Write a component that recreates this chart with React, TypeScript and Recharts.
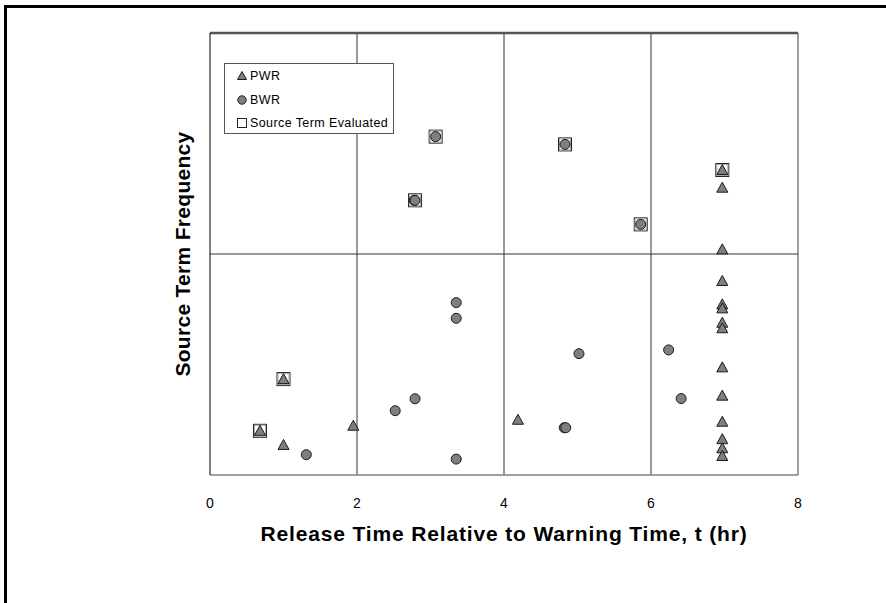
import React from "react";
import {
  ScatterChart,
  Scatter,
  XAxis,
  YAxis,
  CartesianGrid,
  ReferenceLine,
  Legend,
  Label,
} from "recharts";

const xTicks = [0, 2, 4, 6, 8];
const yTicks = [0, 1, 2];

const pwrX = [0.68, 1.0, 1.0, 1.95, 4.19, 6.97, 6.97, 6.97, 6.97, 6.97, 6.97, 6.97, 6.97, 6.97, 6.97, 6.97, 6.97, 6.97, 6.97];
const pwrY = [0.2, 0.434, 0.136, 0.223, 0.25, 1.38, 1.3, 1.021, 0.878, 0.772, 0.754, 0.689, 0.664, 0.487, 0.359, 0.241, 0.162, 0.121, 0.086];

const bwrX = [1.31, 2.52, 2.79, 2.78, 2.79, 3.07, 3.35, 3.35, 3.35, 4.82, 4.84, 5.02, 4.83, 5.86, 6.24, 6.41];
const bwrY = [0.092, 0.291, 0.345, 1.243, 1.243, 1.531, 0.78, 0.709, 0.072, 0.214, 0.214, 0.549, 1.496, 1.134, 0.566, 0.346];

const evalX = [0.68, 1.0, 6.97, 2.79, 3.07, 4.83, 5.86];
const evalY = [0.2, 0.434, 1.38, 1.243, 1.531, 1.496, 1.134];

const pwrData = pwrX.map((x, i) => ({ x, y: pwrY[i] }));
const bwrData = bwrX.map((x, i) => ({ x, y: bwrY[i] }));
const evalData = evalX.map((x, i) => ({ x, y: evalY[i] }));

const FONT = "'Liberation Sans', Arial, Helvetica, sans-serif";
const MARK_FILL = "#7f7f7f";
const MARK_STROKE = "#1a1a1a";

const Triangle = (p: any) => {
  const { cx, cy } = p;
  if (cx == null || cy == null) return null;
  const pts = `${cx},${cy - 5.5} ${cx - 5.5},${cy + 4.5} ${cx + 5.5},${cy + 4.5}`;
  return <polygon points={pts} fill={MARK_FILL} stroke={MARK_STROKE} strokeWidth={1} />;
};

const Dot = (p: any) => {
  const { cx, cy } = p;
  if (cx == null || cy == null) return null;
  return <circle cx={cx} cy={cy} r={5} fill={MARK_FILL} stroke={MARK_STROKE} strokeWidth={1} />;
};

const Square = (p: any) => {
  const { cx, cy } = p;
  if (cx == null || cy == null) return null;
  return (
    <g>
      <rect x={cx - 6.5} y={cy - 6.5} width={13} height={13} fill="#fff" stroke="#222" strokeWidth={1} />
      <rect x={cx - 5.5} y={cy - 5.5} width={11} height={11} fill="none" stroke="#aaa" strokeWidth={1} />
    </g>
  );
};

const LegendBox = () => {
  const rows = [
    { label: "PWR", top: 12, icon: <polygon points="5,0.5 0.5,8.5 9.5,8.5" fill={MARK_FILL} stroke={MARK_STROKE} strokeWidth={1} /> },
    { label: "BWR", top: 36, icon: <circle cx={5} cy={5} r={4.2} fill={MARK_FILL} stroke={MARK_STROKE} strokeWidth={1} /> },
    { label: "Source Term Evaluated", top: 59, icon: <rect x={0.5} y={0.5} width={9} height={9} fill="#fff" stroke="#222" strokeWidth={1} /> },
  ];
  return (
    <div
      style={{
        position: "relative",
        width: 170,
        height: 71,
        boxSizing: "border-box",
        border: "1px solid #555",
        background: "#fff",
        fontFamily: FONT,
        fontSize: 12.5,
        letterSpacing: 0.4,
        color: "#000",
      }}
    >
      {rows.map((r) => (
        <div key={r.label} style={{ position: "absolute", left: 12, top: r.top - 7, height: 14, display: "flex", alignItems: "center", whiteSpace: "nowrap" }}>
          <svg width={10} height={10} style={{ marginRight: 3 }}>{r.icon}</svg>
          <span>{r.label}</span>
        </div>
      ))}
    </div>
  );
};

export default function App() {
  return (
    <div style={{ position: "absolute", left: 0, top: 0, width: 886, height: 603, background: "#fff", overflow: "hidden" }}>
      <div style={{ position: "absolute", left: 4, top: 5, width: 1000, height: 1000, borderLeft: "3px solid #000", borderTop: "3px solid #000" }} />
      <div style={{ position: "absolute", left: 0, top: 0 }}>
        <ScatterChart width={886} height={603} margin={{ top: 33, right: 88, bottom: 68, left: 150 }}>
          <CartesianGrid stroke="#333" strokeWidth={1} horizontalValues={[1]} verticalValues={[2, 4, 6]} />
          <XAxis
            type="number"
            dataKey="x"
            domain={[0, 8]}
            ticks={xTicks}
            height={60}
            tickLine={false}
            tickSize={6}
            tickMargin={17}
            axisLine={{ stroke: "#808080", strokeWidth: 1.5 }}
            tick={{ fontSize: 14, fill: "#000", fontFamily: FONT }}
            interval={0}
          >
            <Label
              content={(props: any) => {
                const vb = props.viewBox || {};
                return (
                  <text x={(vb.x || 0) + (vb.width || 0) / 2} y={541} textAnchor="middle" fontFamily={FONT} fontWeight="bold" fontSize={21} letterSpacing={0.85} fill="#000">
                    Release Time Relative to Warning Time, t (hr)
                  </text>
                );
              }}
            />
          </XAxis>
          <YAxis
            type="number"
            dataKey="y"
            domain={[0, 2]}
            ticks={yTicks}
            width={60}
            tick={false}
            tickSize={3}
            tickLine={{ stroke: "#000" }}
            axisLine={{ stroke: "#000", strokeWidth: 1 }}
          >
            <Label
              content={(props: any) => {
                const vb = props.viewBox || {};
                const cy = (vb.y || 0) + (vb.height || 0) / 2;
                return (
                  <text x={0} y={0} transform={`translate(190,${cy}) rotate(-90)`} textAnchor="middle" fontFamily={FONT} fontWeight="bold" fontSize={21} letterSpacing={0.3} fill="#000">
                    Source Term Frequency
                  </text>
                );
              }}
            />
          </YAxis>
          <ReferenceLine x={8} stroke="#808080" strokeWidth={1.5} />
          <ReferenceLine y={1} stroke="#333" strokeWidth={1} />
          <ReferenceLine y={2} stroke="#555" strokeWidth={2.5} />
          <Legend
            layout="vertical"
            align="center"
            verticalAlign="middle"
            content={() => <LegendBox />}
            wrapperStyle={{ left: 224, top: 63, width: 170, height: 71 }}
          />
          <Scatter name="Source Term Evaluated" data={evalData} shape={Square} isAnimationActive={false} />
          <Scatter name="BWR" data={bwrData} shape={Dot} isAnimationActive={false} />
          <Scatter name="PWR" data={pwrData} shape={Triangle} isAnimationActive={false} />
        </ScatterChart>
      </div>
    </div>
  );
}
